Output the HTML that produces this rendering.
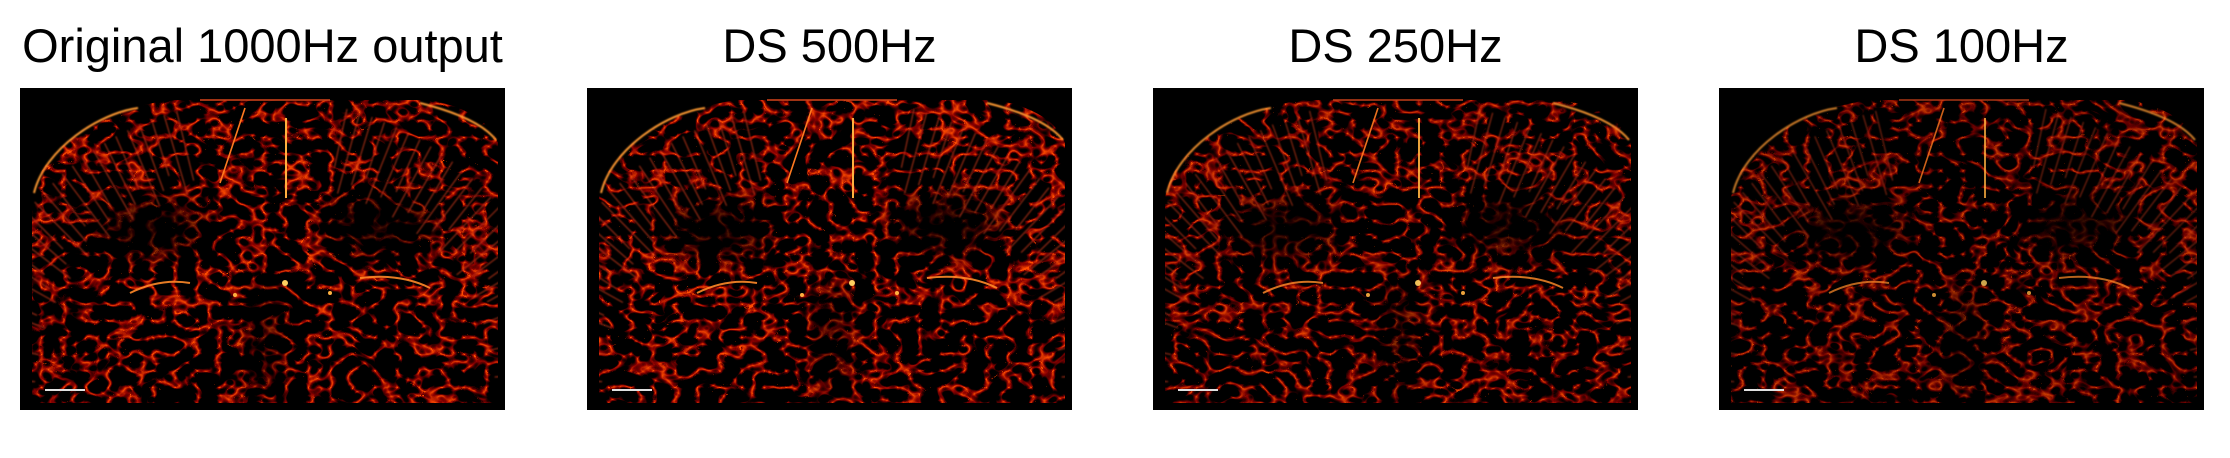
<!DOCTYPE html>
<html><head><meta charset="utf-8">
<style>
html,body{margin:0;padding:0;background:#fff;}
body{width:2230px;height:458px;position:relative;overflow:hidden;font-family:"Liberation Sans",sans-serif;}
.title{position:absolute;top:18px;width:485px;text-align:center;font-size:47px;color:#000;white-space:nowrap;}
.panel{position:absolute;top:88px;width:485px;height:322px;}
</style></head>
<body>
<div class="title" style="left:20px">Original 1000Hz output</div>
<div class="title" style="left:587px">DS 500Hz</div>
<div class="title" style="left:1153px">DS 250Hz</div>
<div class="title" style="left:1719px">DS 100Hz</div>
<div id="p0" class="panel" style="left:20px"></div>
<div id="p1" class="panel" style="left:587px"></div>
<div id="p2" class="panel" style="left:1153px"></div>
<div id="p3" class="panel" style="left:1719px"></div>
<script>
const brightness=[1.0,1.0,0.92,0.8];
const brain="M12,110 C20,60 80,22 150,12 L410,12 C450,20 470,35 478,55 L478,315 L12,315 Z";
function build(i){
  const b=brightness[i];
  const ns="http://www.w3.org/2000/svg";
  let s='<svg xmlns="'+ns+'" width="485" height="322" viewBox="0 0 485 322">';
  s+='<defs><filter id="t'+i+'" x="0" y="0" width="100%" height="100%" color-interpolation-filters="sRGB">'+
     '<feTurbulence type="turbulence" baseFrequency="0.045 0.06" numOctaves="2" seed="'+(i+3)+'"/>'+
     '<feColorMatrix type="matrix" values="'+(-4.5*b)+' 0 0 0 '+(1.0*b)+'  '+(-3*b)+' 0 0 0 '+(0.3*b)+'  0 0 0 0 0  0 0 0 0 1"/></filter>'+
     '<clipPath id="c'+i+'"><path d="'+brain+'"/></clipPath>'+
     '<filter id="bl'+i+'"><feGaussianBlur stdDeviation="14"/></filter>'+
     '<filter id="gl'+i+'"><feGaussianBlur stdDeviation="0.8"/></filter></defs>';
  s+='<rect width="485" height="322" fill="#000"/>';
  s+='<g clip-path="url(#c'+i+')"><rect width="485" height="322" filter="url(#t'+i+')"/>';
  s+='<g filter="url(#bl'+i+')" fill="#000" opacity="0.75"><ellipse cx="130" cy="140" rx="55" ry="28"/><ellipse cx="360" cy="135" rx="55" ry="28"/><ellipse cx="245" cy="250" rx="12" ry="60"/></g>';
  let g='<g stroke="#c8381a" stroke-width="1.2" fill="none" opacity="'+(0.75*b)+'" filter="url(#gl'+i+')">';
  for(let k=0;k<70;k++){
    const a=Math.PI*(0.99-k*0.0141);
    if(k>28&&k<41) continue;
    const cx=245,cy=300;
    const x1=cx+Math.cos(a)*300, y1=cy-Math.sin(a)*290;
    const x2=cx+Math.cos(a)*(230+(k%3)*12), y2=cy-Math.sin(a)*(205+(k%3)*12);
    g+='<line x1="'+x1.toFixed(1)+'" y1="'+y1.toFixed(1)+'" x2="'+x2.toFixed(1)+'" y2="'+y2.toFixed(1)+'"/>';
  }
  g+='</g>';
  s+=g+'</g>';
  s+='<path d="M14,105 C25,60 80,25 118,20" stroke="#ff9a30" stroke-width="2" fill="none" opacity="'+b+'" filter="url(#gl'+i+')"/>';
  s+='<path d="M400,15 C440,25 465,38 476,52" stroke="#ff9a30" stroke-width="2" fill="none" opacity="'+b+'" filter="url(#gl'+i+')"/>';
  s+='<path d="M180,12 L310,12" stroke="#c8401a" stroke-width="2" opacity="'+(0.8*b)+'"/>';
  s+='<line x1="266" y1="30" x2="266" y2="110" stroke="#ffb040" stroke-width="2" opacity="'+b+'"/>';
  s+='<line x1="200" y1="95" x2="225" y2="20" stroke="#ff7a20" stroke-width="1.6" opacity="'+b+'"/>';
  s+='<circle cx="265" cy="195" r="3" fill="#ffd060" opacity="'+b+'"/><circle cx="310" cy="205" r="2" fill="#ffb040" opacity="'+b+'"/><circle cx="215" cy="207" r="2" fill="#ffb040" opacity="'+b+'"/>';
  s+='<path d="M110,205 Q140,190 170,195" stroke="#ff8a28" stroke-width="2" fill="none" opacity="'+(0.9*b)+'"/>';
  s+='<path d="M340,190 Q380,185 410,200" stroke="#ff8a28" stroke-width="2" fill="none" opacity="'+(0.9*b)+'"/>';
  s+='<line x1="25" y1="302" x2="65" y2="302" stroke="#e0e0e0" stroke-width="2"/>';
  s+='</svg>';
  const p=document.getElementById('p'+i);
  p.innerHTML=s;
  const im=p.querySelector('svg');
  
  
}
for(let i=0;i<4;i++) build(i);
</script>
</body></html>
